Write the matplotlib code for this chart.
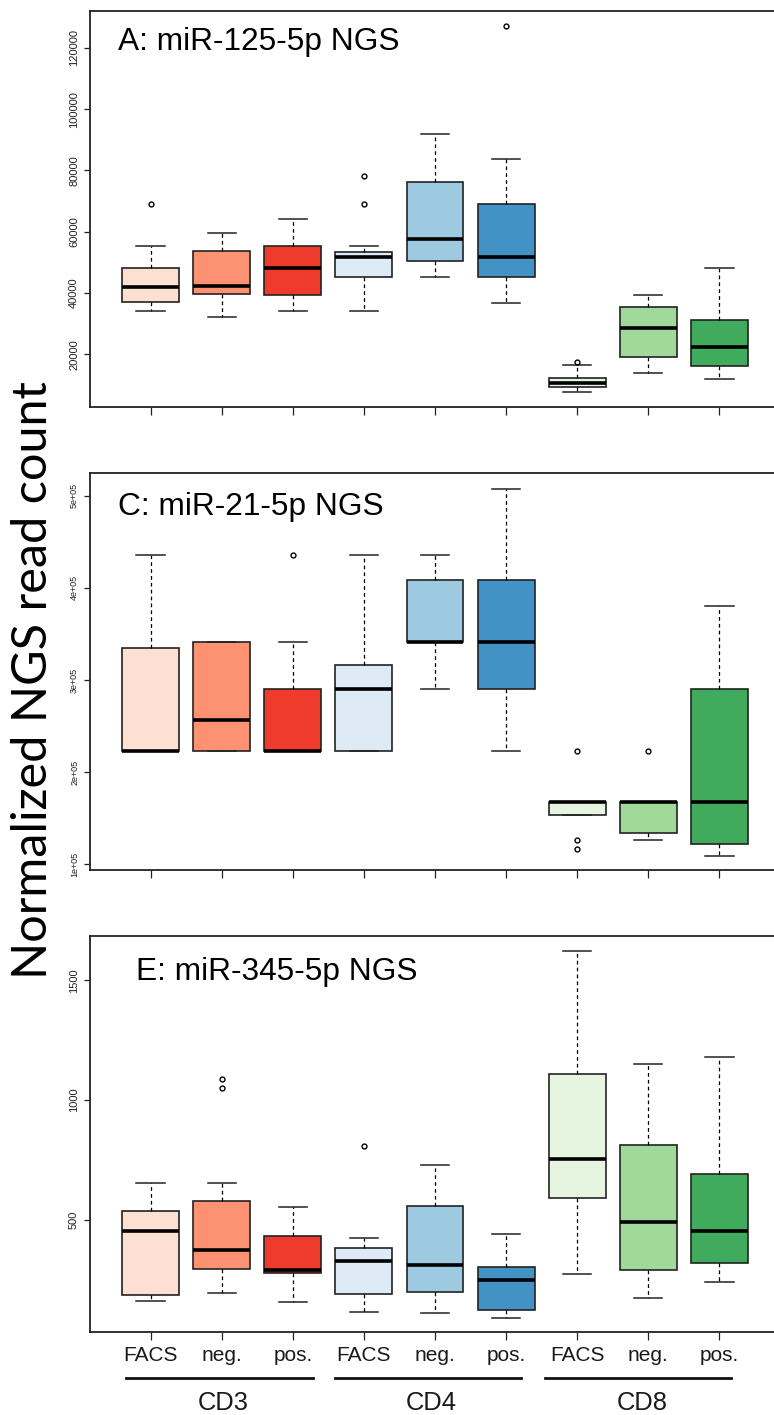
import numpy as np
import matplotlib
matplotlib.use("Agg")
import matplotlib.pyplot as plt
import matplotlib.transforms as mtransforms

# groups / colours
groups = ["CD3", "CD4", "CD8"]
subs = ["FACS", "neg.", "pos."]
colors = ["#FEE0D2", "#FC9272", "#EF3B2C",
          "#DEEBF7", "#9ECAE1", "#4292C6",
          "#E5F5E0", "#A1D99B", "#41AB5D"]

# A: miR-125-5p
med_A = [41900, 42350, 48200, 51700, 57500, 51700, 10710, 28470, 22260]
q1_A = [36900, 39550, 39440, 45100, 50330, 45100, 9300, 19010, 16260]
q3_A = [48200, 53670, 55400, 53450, 76280, 68900, 12340, 35520, 31270]
lo_A = [34000, 32040, 34000, 34000, 45100, 36800, 7570, 14000, 11930]
hi_A = [55400, 59450, 64000, 55400, 91740, 83790, 16400, 39440, 48130]
fl_A = [[69000], [], [], [78240, 68900], [], [127000], [17450], [], []]

# C: miR-21-5p
med_C = [223000, 257000, 223000, 290600, 341200, 341200, 168000, 168000, 168000]
q1_C = [223000, 223000, 223000, 223000, 341200, 290600, 153900, 134000, 121700]
q3_C = [335100, 341200, 290600, 316300, 408000, 408000, 168000, 168000, 290600]
lo_C = [223000, 223000, 223000, 223000, 290600, 223000, 153900, 126800, 109400]
hi_C = [436000, 341200, 341200, 436000, 436000, 507300, 168000, 168000, 380000]
fl_C = [[], [], [435700], [], [], [], [222700, 126000, 116300], [222700], []]

# E: miR-345-5p
med_E = [453, 372, 290, 327, 310, 249, 754, 492, 453]
q1_E = [187, 294, 276, 190, 198, 121, 592, 291, 320]
q3_E = [538, 578, 431, 383, 556, 301, 1110, 813, 692]
lo_E = [160, 195, 156, 115, 110, 89, 275, 172, 239]
hi_E = [652, 652, 552, 422, 727, 440, 1622, 1152, 1180]
fl_E = [[], [1051, 1086], [], [809], [], [], [], [], []]

W, H = 774, 1415
fig = plt.figure(figsize=(W / 100, H / 100), dpi=100)

def px_axes(top, bottom, left=89.5, right=780.5):
    return fig.add_axes([left / W, 1 - bottom / H, (right - left) / W, (bottom - top) / H])

def panel(ax, med, q1, q3, lo, hi, fl, title, tx, ty, ylim, yticks, ylabels, tfs):
    stats = []
    for i in range(len(med)):
        stats.append(dict(med=med[i], q1=q1[i], q3=q3[i], whislo=lo[i], whishi=hi[i],
                          fliers=np.array(fl[i], dtype=float)))
    pos = np.arange(1, len(med) + 1)
    bp = ax.bxp(stats, positions=pos, widths=0.8, capwidths=0.4, patch_artist=True,
                boxprops=dict(edgecolor="#222222", linewidth=1.2),
                medianprops=dict(color="black", linewidth=2.6, solid_capstyle="butt"),
                whiskerprops=dict(color="black", linewidth=0.9, linestyle=(0, (3, 2.5))),
                capprops=dict(color="#222222", linewidth=1.1),
                flierprops=dict(marker="o", markersize=3.5, markerfacecolor="none",
                                markeredgecolor="black", markeredgewidth=1.0))
    for patch, c in zip(bp["boxes"], colors):
        patch.set_facecolor(c)
    ax.set_xlim(0.14, 9.86)
    ax.set_ylim(*ylim)
    ax.set_yticks(yticks)
    ax.set_yticklabels(ylabels, rotation=90, va="center", fontsize=tfs,
                       family="Liberation Sans")
    ax.set_xticks(pos)
    ax.set_xticklabels([])
    ax.tick_params(axis="y", length=4.5, width=0.9, pad=3, colors="#222222")
    ax.tick_params(axis="x", length=6, width=0.9, colors="#222222")
    for s in ax.spines.values():
        s.set_linewidth(1.3)
        s.set_color("#222222")
    ax.text(tx, ty, title, transform=ax.transAxes, ha="left", va="baseline",
            fontsize=22.8, family="Liberation Sans")

axA = px_axes(11, 406.7)
panel(axA, med_A, q1_A, q3_A, lo_A, hi_A, fl_A, "A: miR-125-5p NGS", 0.0417, 0.9014,
      (2900, 132000), [20000, 40000, 60000, 80000, 100000, 120000],
      ["20000", "40000", "60000", "80000", "100000", "120000"], 8)

axC = px_axes(473.3, 870)
panel(axC, med_C, q1_C, q3_C, lo_C, hi_C, fl_C, "C: miR-21-5p NGS", 0.0417, 0.895,
      (93800, 524300), [1e5, 2e5, 3e5, 4e5, 5e5],
      ["1e+05", "2e+05", "3e+05", "4e+05", "5e+05"], 6.5)

axE = px_axes(936, 1332)
panel(axE, med_E, q1_E, q3_E, lo_E, hi_E, fl_E, "E: miR-345-5p NGS", 0.0673, 0.889,
      (31, 1685), [500, 1000, 1500], ["500", "1000", "1500"], 8)

# bottom category labels
axE.set_xticklabels(subs * 3, fontsize=15, family="Liberation Sans", color="#1a1a1a")
axE.tick_params(axis="x", pad=4)

trans = mtransforms.blended_transform_factory(axE.transData, fig.transFigure)
mids = [1.97, 4.9, 7.86]
for g, m in zip(groups, mids):
    fig.add_artist(plt.Line2D([m - 1.31, m + 1.31], [1 - 1377.5 / H] * 2, transform=trans,
                              color="#111111", linewidth=2))
    fig.text(m + 0.05, 1 - 1402.5 / H, g, transform=trans, ha="center", va="center",
             fontsize=18.4, family="Liberation Sans", color="#1a1a1a")

fig.text(33 / W, 1 - 680 / H, "Normalized NGS read count", rotation=90,
         ha="center", va="center", fontsize=35, family="Lato")

fig.savefig("out.png", dpi=100)
